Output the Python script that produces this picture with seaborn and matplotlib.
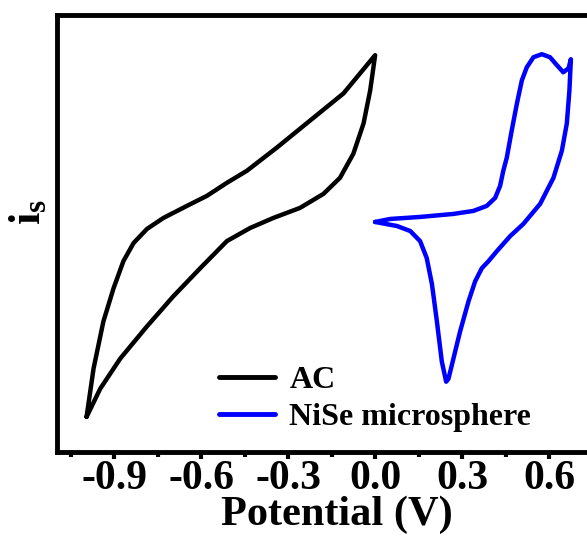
import pandas as pd
import matplotlib
matplotlib.use("Agg")
import matplotlib.pyplot as plt
from matplotlib.ticker import MultipleLocator
import seaborn as sns

# CV loops (potential in V, current in arbitrary units)
ac_v = [-0.995, -0.971, -0.937, -0.902, -0.868, -0.833, -0.787, -0.730, -0.649, -0.580,
        -0.511, -0.442, -0.339, -0.224, -0.109, 0.0,
        -0.017, -0.040, -0.075, -0.121, -0.178, -0.259, -0.351, -0.431, -0.511,
        -0.603, -0.696, -0.787, -0.879, -0.948, -0.995]
ac_i = [-1.95, -1.47, -1.00, -0.67, -0.40, -0.22, -0.08, 0.03, 0.15, 0.25,
        0.38, 0.50, 0.73, 1.00, 1.27, 1.65,
        1.30, 0.97, 0.67, 0.43, 0.27, 0.13, 0.03, -0.07, -0.20,
        -0.47, -0.75, -1.05, -1.37, -1.67, -1.95]

nise_v = [0.0, 0.052, 0.155, 0.270, 0.339, 0.385, 0.414, 0.431, 0.442, 0.454,
          0.471, 0.489, 0.506, 0.523, 0.546, 0.575, 0.603, 0.627, 0.649, 0.667,
          0.675, 0.670, 0.661, 0.644, 0.615, 0.569, 0.511, 0.466, 0.420, 0.391,
          0.368, 0.345, 0.322, 0.293, 0.270, 0.253, 0.245, 0.230, 0.213, 0.196,
          0.178, 0.155, 0.121, 0.075, 0.0]
nise_i = [-0.01, 0.02, 0.04, 0.07, 0.10, 0.15, 0.23, 0.35, 0.50, 0.63,
          0.90, 1.17, 1.40, 1.53, 1.63, 1.66, 1.63, 1.55, 1.48, 1.52,
          1.61, 1.30, 0.97, 0.70, 0.43, 0.17, -0.03, -0.15, -0.30, -0.40,
          -0.47, -0.60, -0.80, -1.10, -1.37, -1.57, -1.60, -1.40, -1.00, -0.63,
          -0.37, -0.20, -0.10, -0.05, -0.01]

labels = ["AC", "NiSe microsphere"]
colors = ["black", "blue"]
tick_pos = [-0.9, -0.6, -0.3, 0.0, 0.3, 0.6]
tick_labels = ["-0.9", "-0.6", "-0.3", "0.0", "0.3", "0.6"]

df = pd.concat([
    pd.DataFrame({"V": ac_v, "i": ac_i, "sample": labels[0]}),
    pd.DataFrame({"V": nise_v, "i": nise_i, "sample": labels[1]}),
], ignore_index=True)

sns.set_theme(style="ticks", rc={"axes.edgecolor": "black", "xtick.color": "black",
                                 "text.color": "black", "axes.labelcolor": "black"})
plt.rcParams["font.family"] = ["Liberation Serif", "DejaVu Serif"]
plt.rcParams["font.weight"] = "bold"
plt.rcParams["mathtext.fontset"] = "custom"
plt.rcParams["mathtext.rm"] = "Liberation Serif:bold"
plt.rcParams["mathtext.it"] = "Liberation Serif:bold"
plt.rcParams["mathtext.bf"] = "Liberation Serif:bold"

fig = plt.figure(figsize=(5.87, 5.42), dpi=100)
ax = fig.add_axes([0.0971, 0.1660, 0.952, 0.8063])

sns.lineplot(data=df, x="V", y="i", hue="sample", sort=False, estimator=None,
             palette=dict(zip(labels, colors)), linewidth=3.2, ax=ax)
for line in ax.get_lines():
    line.set_solid_joinstyle("round")

ax.set_xlim(-1.097, 0.83)
ax.set_ylim(-2.30, 2.05)
ax.xaxis.set_minor_locator(MultipleLocator(0.15))
ax.set_xticks(tick_pos)
ax.set_xticklabels(tick_labels)
ax.set_yticks([])
ax.tick_params(axis="x", which="major", direction="out", length=5, width=3,
               labelsize=30, pad=1)
ax.tick_params(axis="x", which="minor", direction="out", length=3.5, width=3)
for s in ax.spines.values():
    s.set_linewidth(3.5)

ax.set_xlabel("Potential (V)", fontsize=30.5, fontweight="bold", labelpad=-2)
ax.set_ylabel(r"$\mathrm{i_s}$", fontsize=32)
ax.yaxis.set_label_coords(-0.015, 0.55)

leg = ax.legend(loc="lower left", bbox_to_anchor=(0.29, 0.045), frameon=False,
                fontsize=23, handlelength=1.75, handletextpad=0.45,
                labelspacing=0.25, borderpad=0, borderaxespad=0)
for line in leg.get_lines():
    line.set_linewidth(3.5)

fig.savefig("out.png", dpi=100)
